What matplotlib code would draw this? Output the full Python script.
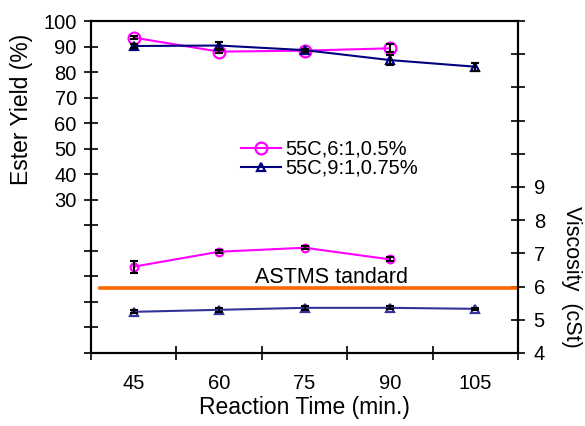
import matplotlib
matplotlib.use('Agg')
import matplotlib.pyplot as plt
import numpy as np

plt.rcParams['font.family'] = ['Liberation Sans', 'DejaVu Sans']

times = ['45', '60', '75', '90', '105']

# ester yield (%)
yield_a = [93.5, 88.0, 88.4, 89.3]
yield_a_err = [0.6, 0.5, 0.5, 1.6]
yield_b = [90.2, 90.4, 88.6, 84.7, 82.1]
yield_b_err = [0.8, 1.5, 0.6, 2.1, 1.6]

# kinematic viscosity (cSt)
visc_a = [6.6, 7.05, 7.17, 6.82]
visc_a_err = [0.18, 0.05, 0.05, 0.06]
visc_b = [5.24, 5.30, 5.36, 5.36, 5.33]
visc_b_err = [0.05, 0.06, 0.06, 0.05, 0.04]

astm_limit = 5.95
label_a = '55C,6:1,0.5%'
label_b = '55C,9:1,0.75%'

pink = '#FF00FF'
navy = '#000080'
navy_light = '#333399'

fig = plt.figure(figsize=(5.85, 4.26), dpi=100)
ax = fig.add_axes([0.1556, 0.1714, 0.7299, 0.7793])
ax2 = ax.twinx()

xa = np.arange(len(yield_a))
xb = np.arange(len(yield_b))

# yield on the left axis
ax.errorbar(xa, yield_a, yerr=yield_a_err, fmt='none', ecolor='k', elinewidth=1.5, capsize=3, capthick=1.5, zorder=4)
ax.errorbar(xb, yield_b, yerr=yield_b_err, fmt='none', ecolor='k', elinewidth=1.5, capsize=3, capthick=1.5, zorder=4)
la, = ax.plot(xa, yield_a, color=pink, lw=1.5, marker='o', ms=8.5, mfc='none', mew=1.6, label=label_a, zorder=3)
lb, = ax.plot(xb, yield_b, color=navy, lw=1.5, marker='^', ms=6, mfc='none', mew=1.6, label=label_b, zorder=3)

# viscosity on the right axis
ax2.errorbar(xa, visc_a, yerr=visc_a_err, fmt='none', ecolor='k', elinewidth=1.5, capsize=3, capthick=1.5, zorder=4)
ax2.errorbar(xb, visc_b, yerr=visc_b_err, fmt='none', ecolor='k', elinewidth=1.5, capsize=3, capthick=1.5, zorder=4)
ax2.plot(xa, visc_a, color=pink, lw=1.5, marker='o', ms=5.5, mfc='none', mew=1.6, zorder=3)
ax2.plot(xb, visc_b, color=navy_light, lw=1.5, marker='^', ms=6, mfc='none', mew=1.6, zorder=3)
ax2.axhline(astm_limit, xmin=0.02, xmax=0.995, color='#FF6600', lw=2.6, zorder=2)
ax2.text(1.42, 6.1, 'ASTMS tandard', fontsize=15.5, ha='left', va='baseline')

ax.set_xlim(-0.5, 4.5)
ax.set_ylim(-30, 100)
ax2.set_ylim(4, 14)

# left axis: ticks all the way down, labels only from 30 up
yt = np.arange(-30, 101, 10)
ax.set_yticks(yt)
ax.set_yticklabels([str(v) if v >= 30 else '' for v in yt])
rt = np.arange(4, 15, 1)
ax2.set_yticks(rt)
ax2.set_yticklabels([str(v) if v <= 9 else '' for v in rt])

# x: marks between categories, labels centred
ax.set_xticks(np.arange(-0.5, 4.6, 1))
ax.set_xticklabels([])
ax.set_xticks(np.arange(len(times)), minor=True)
ax.set_xticklabels(times, minor=True)

ax.tick_params(axis='y', direction='inout', length=10.5, width=1.2, labelsize=14.5, pad=5)
ax.tick_params(axis='x', which='major', direction='inout', length=10.5, width=1.2)
ax.tick_params(axis='x', which='minor', length=0, labelsize=14.5, pad=15)
ax2.tick_params(axis='y', direction='inout', length=10.5, width=1.2, labelsize=14.5, pad=6)

for a in (ax, ax2):
    for s in a.spines.values():
        s.set_linewidth(1.5)

ax.set_xlabel('Reaction Time (min.)', fontsize=16.5, va='top')
ax.xaxis.set_label_coords(0.5, -0.13)
ax.set_ylabel('Ester Yield (%)', fontsize=16.5)
ax.yaxis.set_label_coords(-0.136, 0.735)
ax2.set_ylabel('Viscosity  (cSt)', fontsize=15.5, rotation=270, va='bottom')
ax2.yaxis.set_label_coords(1.1, 0.229)

fig.legend(handles=[la, lb], loc='center', bbox_to_anchor=(0.563, 0.627), frameon=False,
           fontsize=14.5, handlelength=2.0, handletextpad=0.2, labelspacing=0.0, borderpad=0)

fig.savefig('out.png', dpi=100)
